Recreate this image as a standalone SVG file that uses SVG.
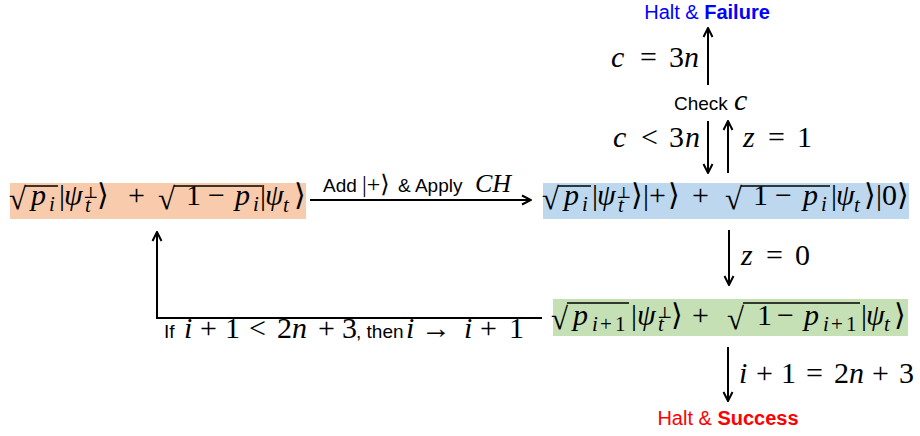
<svg xmlns="http://www.w3.org/2000/svg" width="920" height="436" viewBox="0 0 920 436">
<style>
.m{font-family:"Liberation Serif","Times New Roman",Times,"Noto Serif","DejaVu Serif",serif;font-size:30px;fill:#000}
.i{font-style:italic}
.s{font-size:21px}
.u{font-size:16px}
.r{font-size:31px;font-style:normal}
.t{font-family:"Liberation Sans",Arial,sans-serif;font-size:19px;fill:#000}
.h{font-family:"Liberation Sans",Arial,sans-serif;font-size:20px}
.b{font-weight:bold}
.ln{stroke:#000;stroke-width:2;fill:none}
.ov{stroke:#000;stroke-width:1.3}
</style>
<defs>
<marker id="ah" viewBox="0 0 12 12" refX="11" refY="6" markerWidth="12" markerHeight="12" markerUnits="userSpaceOnUse" orient="auto">
<path d="M2,1.5 L11,6 L2,10.5" fill="none" stroke="#000" stroke-width="2"/>
</marker>
</defs>

<g id="connectors">
<line class="ln" x1="310" y1="200" x2="531" y2="200" marker-end="url(#ah)"/>
<line class="ln" x1="708" y1="121" x2="708" y2="173" marker-end="url(#ah)"/>
<line class="ln" x1="728" y1="173" x2="728" y2="121" marker-end="url(#ah)"/>
<line class="ln" x1="708" y1="85" x2="708" y2="28" marker-end="url(#ah)"/>
<line class="ln" x1="729" y1="230" x2="729" y2="285" marker-end="url(#ah)"/>
<polyline class="ln" points="542,318 157,318 157,232" marker-end="url(#ah)"/>
<line class="ln" x1="728" y1="347" x2="728" y2="401" marker-end="url(#ah)"/>
</g>

<g id="edge-labels">
<text y="192"><tspan class="t" x="323">Add</tspan><tspan class="m" style="font-size:24px" x="362">|+⟩</tspan><tspan class="t" x="398">&amp; Apply</tspan><tspan class="m i" style="font-size:26px" x="475">CH</tspan></text>
<text class="m" y="67"><tspan class="i" x="611">c</tspan><tspan x="640">=</tspan><tspan x="669">3</tspan><tspan class="i" x="684">n</tspan></text>
<text class="m" y="147"><tspan class="i" x="613">c</tspan><tspan x="641">&lt;</tspan><tspan x="669">3</tspan><tspan class="i" x="685">n</tspan></text>
<text class="m" y="147"><tspan class="i" x="743">z</tspan><tspan x="768">=</tspan><tspan x="797">1</tspan></text>
<text class="m" y="265"><tspan class="i" x="741">z</tspan><tspan x="766">=</tspan><tspan x="795">0</tspan></text>
<text class="m" y="383"><tspan class="i" x="739">i</tspan><tspan x="756">+</tspan><tspan x="781">1</tspan><tspan x="806">=</tspan><tspan x="834">2</tspan><tspan class="i" x="849">n</tspan><tspan x="872">+</tspan><tspan x="899">3</tspan></text>
<text y="338"><tspan class="t" x="164">If</tspan><tspan class="m i" x="184">i</tspan><tspan class="m" x="200">+</tspan><tspan class="m" x="225">1</tspan><tspan class="m" x="249">&lt;</tspan><tspan class="m" x="277">2</tspan><tspan class="m i" x="292">n</tspan><tspan class="m" x="318">+</tspan><tspan class="m" x="342">3</tspan><tspan class="t" x="356">, then</tspan><tspan class="m i" x="406">i</tspan><tspan class="m" x="421">→</tspan><tspan class="m i" x="464">i</tspan><tspan class="m" x="480">+</tspan><tspan class="m" x="509">1</tspan></text>
</g>

<g id="n-failure">
<text class="h" x="707" y="19" text-anchor="middle" fill="#0000ff">Halt &amp; <tspan class="b">Failure</tspan></text>
</g>

<g id="n-check">
<text y="110"><tspan class="t" x="674">Check</tspan><tspan class="m i" x="734">c</tspan></text>
</g>

<g id="n-left">
<rect x="10" y="183" width="296" height="36" fill="#f8cbad"/>
<line class="ov" x1="25" y1="186" x2="58" y2="186"/>
<line class="ov" x1="174" y1="186" x2="262" y2="186"/>
<text class="m">
<tspan class="r" x="9" y="209">√</tspan><tspan class="i" x="31" y="205">p</tspan><tspan class="i s" x="49" y="211">i</tspan><tspan x="59" y="205">|</tspan><tspan class="i" x="64" y="205">ψ</tspan><tspan class="u" x="83" y="198">⊥</tspan><tspan class="i s" x="85" y="212">t</tspan><tspan x="97" y="205">⟩</tspan><tspan x="128" y="205">+</tspan><tspan class="r" x="158" y="209">√</tspan><tspan x="186" y="205">1</tspan><tspan x="208" y="205">−</tspan><tspan class="i" x="235" y="205">p</tspan><tspan class="i s" x="253" y="211">i</tspan><tspan x="260" y="205">|</tspan><tspan class="i" x="265" y="205">ψ</tspan><tspan class="i s" x="283" y="212">t</tspan><tspan x="294" y="205">⟩</tspan>
</text>
</g>

<g id="n-blue">
<rect x="543" y="183" width="366" height="36" fill="#bdd7ee"/>
<line class="ov" x1="558" y1="186" x2="591" y2="186"/>
<line class="ov" x1="741" y1="186" x2="830" y2="186"/>
<text class="m">
<tspan class="r" x="542" y="209">√</tspan><tspan class="i" x="564" y="205">p</tspan><tspan class="i s" x="582" y="211">i</tspan><tspan x="592" y="205">|</tspan><tspan class="i" x="597" y="205">ψ</tspan><tspan class="u" x="616" y="198">⊥</tspan><tspan class="i s" x="618" y="212">t</tspan><tspan x="631" y="205">⟩</tspan><tspan x="643" y="205">|</tspan><tspan x="649" y="205">+</tspan><tspan x="668" y="205">⟩</tspan><tspan x="692" y="205">+</tspan><tspan class="r" x="725" y="209">√</tspan><tspan x="753" y="205">1</tspan><tspan x="775" y="205">−</tspan><tspan class="i" x="803" y="205">p</tspan><tspan class="i s" x="821" y="211">i</tspan><tspan x="831" y="205">|</tspan><tspan class="i" x="836" y="205">ψ</tspan><tspan class="i s" x="854" y="212">t</tspan><tspan x="864" y="205">⟩</tspan><tspan x="876" y="205">|</tspan><tspan x="882" y="205">0</tspan><tspan x="897" y="205">⟩</tspan>
</text>
</g>

<g id="n-green">
<rect x="553" y="299" width="355" height="37" fill="#c5e0b4"/>
<line class="ov" x1="567" y1="303" x2="629" y2="303"/>
<line class="ov" x1="743" y1="303" x2="860" y2="303"/>
<text class="m">
<tspan class="r" x="551" y="329">√</tspan><tspan class="i" x="573" y="325">p</tspan><tspan class="i s" x="592" y="331">i</tspan><tspan class="s" x="600" y="331">+</tspan><tspan class="s" x="615" y="331">1</tspan><tspan x="631" y="325">|</tspan><tspan class="i" x="637" y="325">ψ</tspan><tspan class="u" x="657" y="318">⊥</tspan><tspan class="i s" x="658" y="331">t</tspan><tspan x="671" y="325">⟩</tspan><tspan x="692" y="325">+</tspan><tspan class="r" x="727" y="329">√</tspan><tspan x="757" y="325">1</tspan><tspan x="777" y="325">−</tspan><tspan class="i" x="804" y="325">p</tspan><tspan class="i s" x="823" y="331">i</tspan><tspan class="s" x="831" y="331">+</tspan><tspan class="s" x="846" y="331">1</tspan><tspan x="861" y="325">|</tspan><tspan class="i" x="866" y="325">ψ</tspan><tspan class="i s" x="884" y="331">t</tspan><tspan x="894" y="325">⟩</tspan>
</text>
</g>

<g id="n-success">
<text class="h" x="728" y="425" text-anchor="middle" fill="#ff0000">Halt &amp; <tspan class="b">Success</tspan></text>
</g>
</svg>
